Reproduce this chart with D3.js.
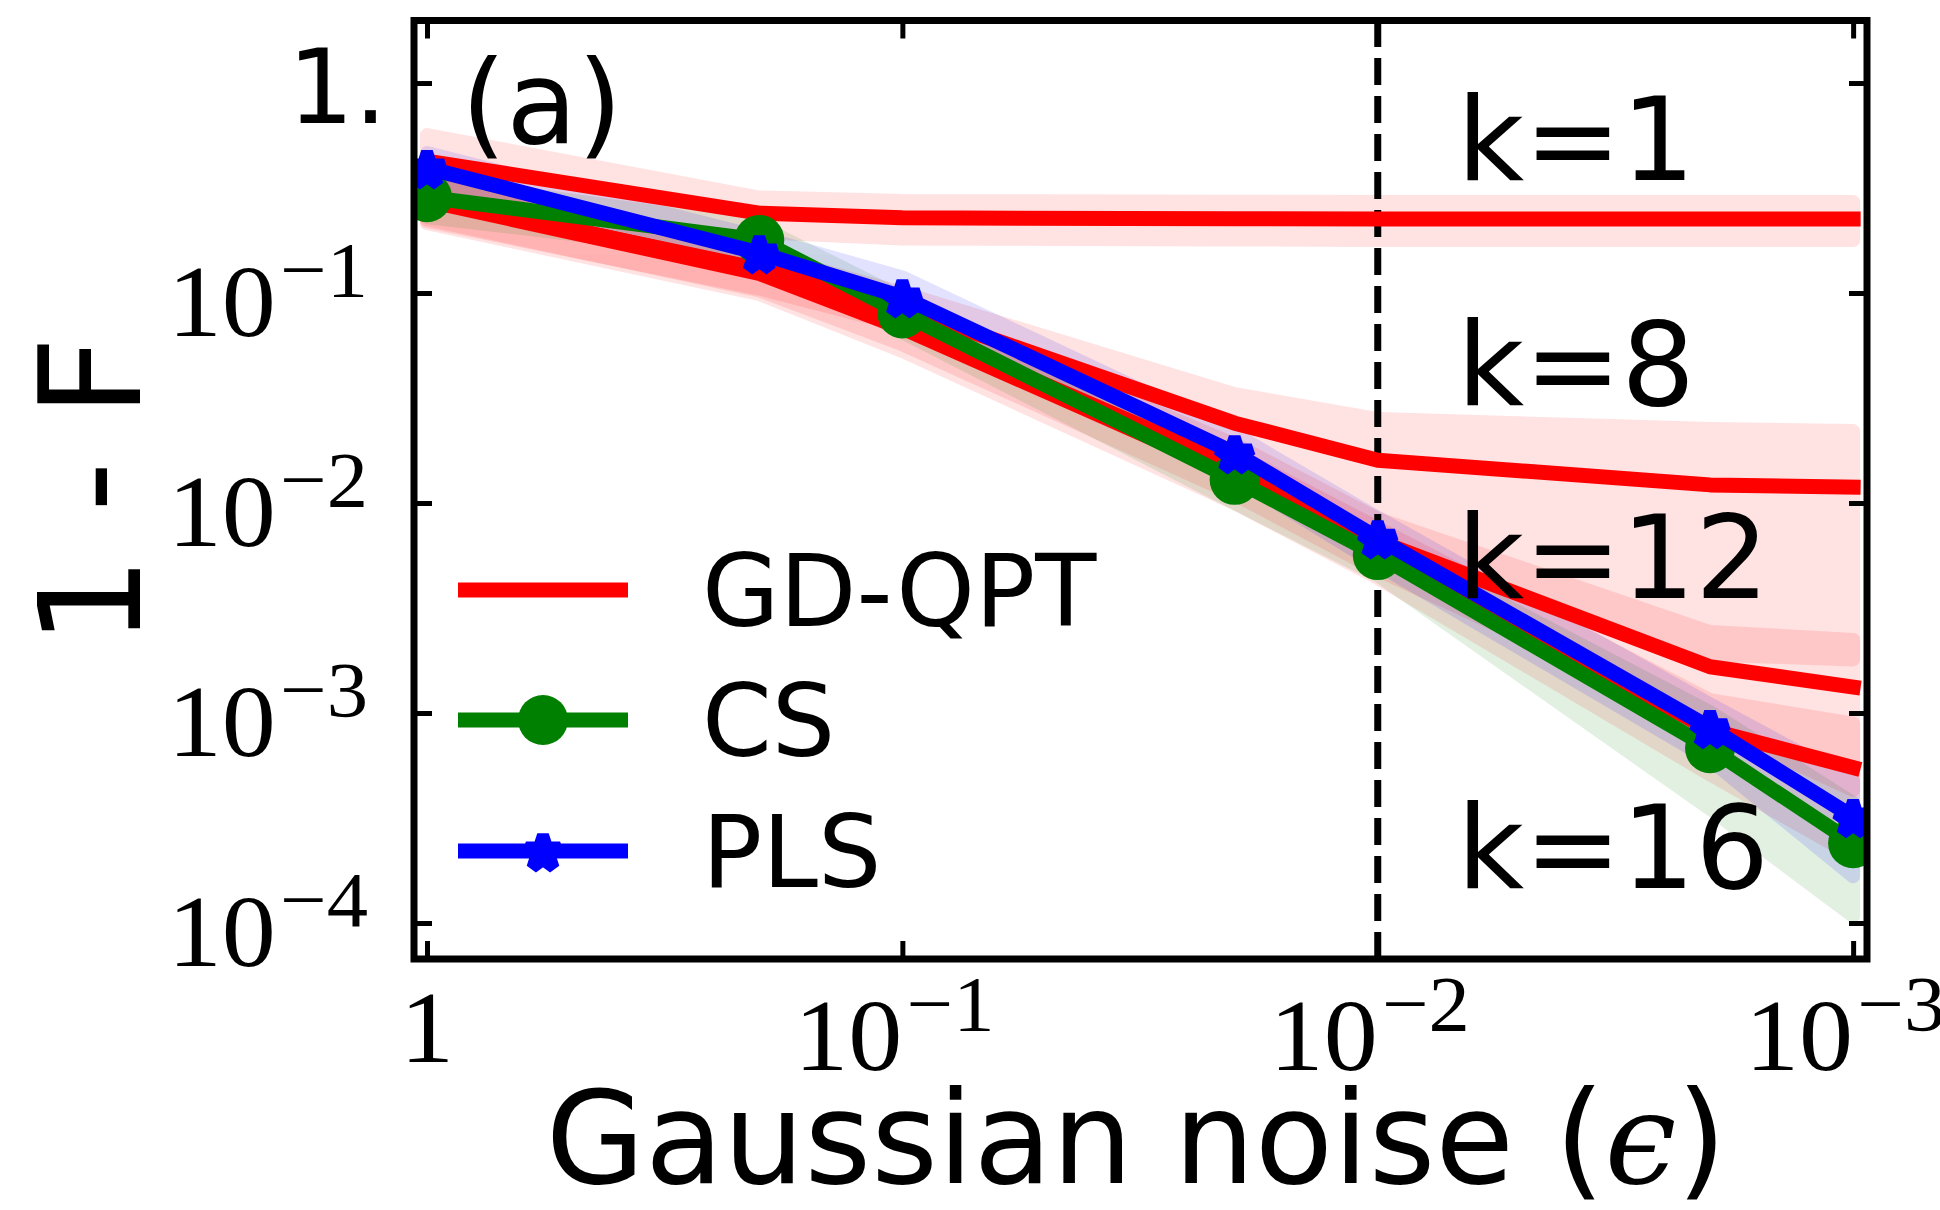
<!DOCTYPE html>
<html><head><meta charset="utf-8">
<script src="https://cdn.jsdelivr.net/npm/d3@7"></script>
<style>html,body{margin:0;padding:0;background:#fff;} svg{display:block;}</style>
</head><body><svg id="c" width="1940" height="1210"></svg>
<script>
// ---------- data ----------
const noise = [1, 0.2, 0.1, 0.02, 0.01, 0.002, 0.001];

const gdK1Mean = [0.425, 0.240, 0.228, 0.226, 0.225, 0.225, 0.225];
const gdK1Lo   = [0.285, 0.195, 0.182, 0.180, 0.179, 0.179, 0.179];
const gdK1Hi   = [0.565, 0.285, 0.274, 0.272, 0.271, 0.271, 0.271];

const gdK8Mean = [0.280, 0.130, 0.085, 0.024, 0.0160, 0.0122, 0.0119];
const gdK8Lo   = [0.220, 0.105, 0.070, 0.015, 0.0069, 0.0019, 0.0018];
const gdK8Hi   = [0.340, 0.155, 0.100, 0.033, 0.0251, 0.0225, 0.0220];

const gdK12Mean = [0.285, 0.128, 0.072, 0.0150, 0.0066, 0.00166, 0.00133];
const gdK12Lo   = [0.225, 0.103, 0.057, 0.0110, 0.0048, 0.00089, 0.00043];
const gdK12Hi   = [0.345, 0.153, 0.087, 0.0190, 0.0084, 0.00243, 0.00223];

const gdK16Mean = [0.275, 0.124, 0.068, 0.0136, 0.0060, 0.00083, 0.00055];
const gdK16Lo   = [0.215, 0.099, 0.053, 0.0100, 0.0044, 0.00051, 0.00021];
const gdK16Hi   = [0.335, 0.149, 0.083, 0.0172, 0.0076, 0.00115, 0.00089];

const csMean = [0.286, 0.179, 0.080, 0.0129, 0.00565, 0.00068, 0.00024];
const csLo   = [0.230, 0.150, 0.065, 0.0100, 0.00454, 0.00035, 0.000108];
const csHi   = [0.342, 0.208, 0.095, 0.0158, 0.00676, 0.00101, 0.000372];

const plsMean = [0.394, 0.155, 0.0957, 0.0173, 0.0068, 0.00085, 0.00032];
const plsLo   = [0.324, 0.125, 0.0727, 0.0133, 0.0051, 0.00060, 0.000167];
const plsHi   = [0.464, 0.185, 0.1187, 0.0213, 0.0085, 0.00110, 0.000473];

const kLabels = ["k=1", "k=8", "k=12", "k=16"];
const kLabelValues = [0.345, 0.0293, 0.00353, 0.000147]; // text baselines, in data units of the y axis

const xTicks = [1, 0.1, 0.01, 0.001];
const xTickBase = ["1", "10", "10", "10"];
const xTickExp = ["", "−1", "−2", "−3"];
const yTicks = [1, 0.1, 0.01, 0.001, 0.0001];
const yTickBase = ["1.", "10", "10", "10", "10"];
const yTickExp = ["", "−1", "−2", "−3", "−4"];
const xLimits = [1.065, 9.35e-4];
const yLimits = [6.74e-5, 1.985];
const dashX = 0.01;

const legendNames = ["GD-QPT", "CS", "PLS"];

// ---------- layout ----------
const L = 414, R = 1867, T = 20.5, B = 959;
const svg = d3.select("#c");
const x = d3.scaleLog().domain(xLimits).range([L, R]);
const y = d3.scaleLog().domain(yLimits).range([B, T]);

const RED = "#ff0000", GREEN = "#008000", BLUE = "#0000ff";

svg.append("defs").append("clipPath").attr("id", "clip")
  .append("rect").attr("x", L).attr("y", T).attr("width", R - L).attr("height", B - T);

const plot = svg.append("g").attr("clip-path", "url(#clip)");

const mk = (mean, lo, hi) => noise.map((n, i) => ({x: n, m: mean[i], lo: lo[i], hi: hi[i]}));
const series = [
  {d: mk(gdK1Mean, gdK1Lo, gdK1Hi), c: RED, kind: "gd"},
  {d: mk(gdK8Mean, gdK8Lo, gdK8Hi), c: RED, kind: "gd"},
  {d: mk(gdK12Mean, gdK12Lo, gdK12Hi), c: RED, kind: "gd"},
  {d: mk(gdK16Mean, gdK16Lo, gdK16Hi), c: RED, kind: "gd"},
  {d: mk(csMean, csLo, csHi), c: GREEN, kind: "cs"},
  {d: mk(plsMean, plsLo, plsHi), c: BLUE, kind: "pls"}
];

const area = d3.area().x(d => x(d.x)).y0(d => y(d.lo)).y1(d => y(d.hi));
const line = d3.line().x(d => x(d.x)).y(d => y(d.m));

// bands
series.forEach(s => {
  plot.append("g").attr("opacity", 0.11)
    .append("path").attr("d", area(s.d))
    .attr("fill", s.c).attr("stroke", s.c).attr("stroke-width", 14)
    .attr("stroke-linejoin", "round");
});

// dashed vertical
plot.append("line")
  .attr("x1", x(dashX)).attr("x2", x(dashX)).attr("y1", B).attr("y2", T)
  .attr("stroke", "#000").attr("stroke-width", 7).attr("stroke-dasharray", "27,11");

const star = d3.symbol().type(d3.symbolStar).size(18 * 18 / 0.8908);
const circ = d3.symbol().type(d3.symbolCircle).size(Math.PI * 25 * 25);
const drawStar = (sel) => sel.attr("fill", BLUE).attr("stroke", BLUE).attr("stroke-width", 12)
  .attr("stroke-linejoin", "miter").attr("stroke-miterlimit", 1.4);

series.forEach(s => {
  plot.append("path").attr("d", line(s.d)).attr("fill", "none")
    .attr("stroke", s.c).attr("stroke-width", 15)
    .attr("stroke-linejoin", "round").attr("stroke-linecap", "square");
  if (s.kind === "cs") {
    plot.selectAll(null).data(s.d).enter().append("path")
      .attr("d", circ()).attr("transform", d => `translate(${x(d.x)},${y(d.m)})`)
      .attr("fill", s.c);
  }
  if (s.kind === "pls") {
    plot.selectAll(null).data(s.d).enter().append("path")
      .attr("d", star()).attr("transform", d => `translate(${x(d.x)},${y(d.m) + 2})`)
      .call(drawStar);
  }
});

// ticks (inward, all sides)
const tickStyle = g => {
  g.select(".domain").remove();
  g.selectAll(".tick line").attr("stroke", "#000").attr("stroke-width", 5);
  g.selectAll(".tick text").remove();
};
svg.append("g").attr("transform", `translate(0,${B})`)
  .call(d3.axisBottom(x).tickValues(xTicks).tickSize(-18).tickFormat("")).call(tickStyle);
svg.append("g").attr("transform", `translate(0,${T})`)
  .call(d3.axisTop(x).tickValues(xTicks).tickSize(-18).tickFormat("")).call(tickStyle);
svg.append("g").attr("transform", `translate(${L},0)`)
  .call(d3.axisLeft(y).tickValues(yTicks).tickSize(-18).tickFormat("")).call(tickStyle);
svg.append("g").attr("transform", `translate(${R},0)`)
  .call(d3.axisRight(y).tickValues(yTicks).tickSize(-18).tickFormat("")).call(tickStyle);

// frame
svg.append("rect").attr("x", L).attr("y", T).attr("width", R - L).attr("height", B - T)
  .attr("fill", "none").attr("stroke", "#000").attr("stroke-width", 7);

// x tick labels
const SERIF = "'Liberation Serif', 'Times New Roman', serif";
const SANS = "'DejaVu Sans', sans-serif";
const SX = 1.06;
xTicks.forEach((v, i) => {
  const cx = x(v) + (xTickExp[i] ? -8 : 0);
  const t = svg.append("text")
    .attr("transform", `translate(${cx},${xTickExp[i] ? 1070 : 1062}) scale(${SX},1)`)
    .attr("text-anchor", "middle").attr("font-family", SERIF).attr("font-size", 102).attr("fill", "#000");
  t.append("tspan").text(xTickBase[i]);
  if (xTickExp[i]) t.append("tspan").attr("dy", -40).attr("dx", 4).attr("font-size", 78).text(xTickExp[i]);
});

// y tick labels
yTicks.forEach((v, i) => {
  if (!yTickExp[i]) {
    svg.append("text").attr("x", 387).attr("y", y(v) + 40).attr("text-anchor", "end")
      .attr("font-family", SANS).attr("font-size", 104).attr("fill", "#000").text(yTickBase[i]);
  } else {
    const t = svg.append("text")
      .attr("transform", `translate(368,${y(v) + 43}) scale(${SX},1)`).attr("text-anchor", "end")
      .attr("font-family", SERIF).attr("font-size", 102).attr("fill", "#000");
    t.append("tspan").text(yTickBase[i]);
    t.append("tspan").attr("dy", -40).attr("dx", 4).attr("font-size", 78).text(yTickExp[i]);
  }
});

// axis titles
svg.append("text").attr("transform", `translate(140,491) rotate(-90)`)
  .attr("text-anchor", "middle").attr("font-family", SANS).attr("font-size", 140).attr("fill", "#000")
  .text("1 - F");
const xt = svg.append("text").attr("x", 1136).attr("y", 1183).attr("text-anchor", "middle")
  .attr("font-family", SANS).attr("font-size", 128).attr("fill", "#000");
xt.append("tspan").text("Gaussian noise (");
xt.append("tspan").attr("font-family", "'DejaVu Serif', serif").attr("font-style", "italic").text("ϵ");
xt.append("tspan").text(")");

// panel label
svg.append("text").attr("x", 461).attr("y", 143).attr("font-family", SANS).attr("font-size", 116)
  .attr("fill", "#000").text("(a)");

// k labels
kLabels.forEach((k, i) => {
  svg.append("text").attr("x", 1457).attr("y", y(kLabelValues[i])).attr("font-family", SANS)
    .attr("font-size", 116).attr("fill", "#000").text(k);
});

// legend
const legY = [590, 720, 851];
const legC = [RED, GREEN, BLUE];
legendNames.forEach((n, i) => {
  svg.append("line").attr("x1", 458).attr("x2", 628).attr("y1", legY[i]).attr("y2", legY[i])
    .attr("stroke", legC[i]).attr("stroke-width", 15);
  if (i === 1) svg.append("path").attr("d", circ()).attr("transform", `translate(543,${legY[i]})`).attr("fill", GREEN);
  if (i === 2) svg.append("path").attr("d", star()).attr("transform", `translate(543,${legY[i] + 2})`).call(drawStar);
  svg.append("text").attr("x", 702).attr("y", legY[i] + 36).attr("font-family", SANS)
    .attr("font-size", 100).attr("fill", "#000").text(n);
});
</script></body></html>
